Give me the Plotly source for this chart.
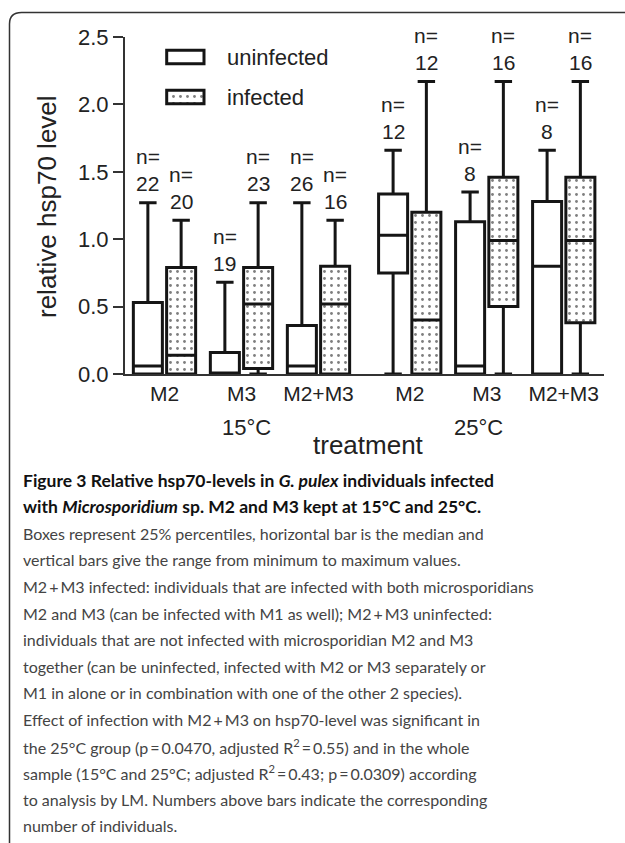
import plotly.graph_objects as go

# ---------------- data ----------------
groups = ["M2", "M3", "M2+M3", "M2", "M3", "M2+M3"]
temperatures = ["15°C", "25°C"]
series_names = ["uninfected", "infected"]

uninf_max = [1.27, 0.68, 1.27, 1.66, 1.35, 1.66]
uninf_q3 = [0.53, 0.16, 0.36, 1.335, 1.13, 1.28]
uninf_med = [0.06, 0.0, 0.06, 1.03, 0.06, 0.80]
uninf_q1 = [0.0, 0.0, 0.0, 0.75, 0.0, 0.0]
uninf_min = [0.0, 0.0, 0.0, 0.0, 0.0, 0.0]
uninf_n = [22, 19, 26, 12, 8, 8]

inf_max = [1.14, 1.27, 1.14, 2.17, 2.17, 2.17]
inf_q3 = [0.79, 0.79, 0.80, 1.20, 1.46, 1.46]
inf_med = [0.14, 0.52, 0.52, 0.40, 0.99, 0.99]
inf_q1 = [0.0, 0.04, 0.0, 0.0, 0.50, 0.38]
inf_min = [0.0, 0.0, 0.0, 0.0, 0.0, 0.0]
inf_n = [20, 23, 16, 12, 16, 16]

y_ticks = [0.0, 0.5, 1.0, 1.5, 2.0, 2.5]

TS = "\u2009"  # thin space used in the caption around + and =
caption_lines = [
    "<b>Figure 3 Relative hsp70-levels in <i>G. pulex</i> individuals infected</b>",
    "<b>with <i>Microsporidium</i> sp. M2 and M3 kept at 15°C and 25°C.</b>",
    "Boxes represent 25% percentiles, horizontal bar is the median and",
    "vertical bars give the range from minimum to maximum values.",
    f"M2{TS}+{TS}M3 infected: individuals that are infected with both microsporidians",
    f"M2 and M3 (can be infected with M1 as well); M2{TS}+{TS}M3 uninfected:",
    "individuals that are not infected with microsporidian M2 and M3",
    "together (can be uninfected, infected with M2 or M3 separately or",
    "M1 in alone or in combination with one of the other 2 species).",
    f"Effect of infection with M2{TS}+{TS}M3 on hsp70-level was significant in",
    f"the 25°C group (p{TS}={TS}0.0470, adjusted R<sup>2</sup>{TS}={TS}0.55) and in the whole",
    f"sample (15°C and 25°C; adjusted R<sup>2</sup>{TS}={TS}0.43; p{TS}={TS}0.0309) according",
    "to analysis by LM. Numbers above bars indicate the corresponding",
    "number of individuals.",
]

# ---------------- layout helpers ----------------
W, H = 625, 843
L, R, T, B = 125, 21, 37, 469
PW, PH = W - L - R, H - T - B


def px_x(px):
    return (px - L) / PW


def px_y(py):
    return (H - B - py) / PH


GAP = 0.185        # extra gap between temperature blocks
OFF = 0.216        # offset of each box from its group centre
BOXW = 0.377
centers = [i + (GAP if i >= 3 else 0) for i in range(len(groups))]
x_un = [c - OFF for c in centers]
x_in = [c + OFF for c in centers]

LINE = "#151515"
TXT = "#222222"
CHART_FONT = "Liberation Sans, Arial, sans-serif"
CAP_FONT = "Lato, Liberation Sans, Arial, sans-serif"

fig = go.Figure()

# dotted fill for infected boxes (drawn under the box outlines)
fig.add_trace(go.Bar(
    x=x_in, y=[a - b for a, b in zip(inf_q3, inf_q1)], base=inf_q1,
    width=BOXW, showlegend=False, hoverinfo="skip",
    marker=dict(color="white", line=dict(width=0),
                pattern=dict(shape=".", size=7, solidity=0.13,
                             fgcolor="black", bgcolor="white")),
))

fig.add_trace(go.Box(
    name=series_names[0], x=x_un, q1=uninf_q1, median=uninf_med, q3=uninf_q3,
    lowerfence=uninf_min, upperfence=uninf_max, width=BOXW, whiskerwidth=0.6,
    fillcolor="white", line=dict(color=LINE, width=3), boxpoints=False,
    showlegend=False,
))
fig.add_trace(go.Box(
    name=series_names[1], x=x_in, q1=inf_q1, median=inf_med, q3=inf_q3,
    lowerfence=inf_min, upperfence=inf_max, width=BOXW, whiskerwidth=0.6,
    fillcolor="rgba(0,0,0,0)", line=dict(color=LINE, width=3), boxpoints=False,
    showlegend=False,
))

# legend swatches on a small hidden subplot
fig.add_trace(go.Bar(
    x=[1], y=[series_names[0]], orientation="h", base=0, width=0.34,
    xaxis="x2", yaxis="y2", showlegend=False, hoverinfo="skip",
    marker=dict(color="white", line=dict(color=LINE, width=3)),
))
fig.add_trace(go.Bar(
    x=[1], y=[series_names[1]], orientation="h", base=0, width=0.34,
    xaxis="x2", yaxis="y2", showlegend=False, hoverinfo="skip",
    marker=dict(color="white", line=dict(color=LINE, width=3),
                pattern=dict(shape=".", size=7, solidity=0.13,
                             fgcolor="black", bgcolor="white")),
))

annotations = []
# n= labels
for xs, mx, ns in ((x_un, uninf_max, uninf_n), (x_in, inf_max, inf_n)):
    for x, m, n in zip(xs, mx, ns):
        annotations.append(dict(x=x, y=m, xref="x", yref="y", text=str(n),
                                showarrow=False, yanchor="middle", yshift=19,
                                font=dict(size=21, color=TXT, family=CHART_FONT)))
        annotations.append(dict(x=x, y=m, xref="x", yref="y", text="n=",
                                showarrow=False, yanchor="middle", yshift=46,
                                font=dict(size=21, color=TXT, family=CHART_FONT)))

# legend labels
for name, py in zip(series_names, (57, 97)):
    annotations.append(dict(x=px_x(225), y=px_y(py), xref="paper", yref="paper",
                            text=name, showarrow=False, xanchor="left",
                            yanchor="middle",
                            font=dict(size=22, color=TXT, family=CHART_FONT)))

# temperature labels
annotations.append(dict(x=centers[1] + 0.06, y=px_y(427), xref="x", yref="paper",
                        text=temperatures[0], showarrow=False, yanchor="middle",
                        font=dict(size=22, color=TXT, family=CHART_FONT)))
annotations.append(dict(x=centers[4] - 0.11, y=px_y(427), xref="x", yref="paper",
                        text=temperatures[1], showarrow=False, yanchor="middle",
                        font=dict(size=22, color=TXT, family=CHART_FONT)))

# axis titles
annotations.append(dict(x=px_x(368), y=px_y(445), xref="paper", yref="paper",
                        text="treatment", showarrow=False, yanchor="middle",
                        font=dict(size=26, color=TXT, family=CHART_FONT)))
annotations.append(dict(x=px_x(47), y=px_y(207), xref="paper", yref="paper",
                        text="relative hsp70 level", showarrow=False,
                        textangle=-90, xanchor="center", yanchor="middle",
                        font=dict(size=26, color=TXT, family=CHART_FONT)))

# caption
for i, line in enumerate(caption_lines):
    bold = i < 2
    annotations.append(dict(
        x=px_x(21), y=px_y(480 + 26.6 * i), xref="paper", yref="paper",
        text=line, showarrow=False, xanchor="left", yanchor="middle",
        font=dict(size=17.5 if bold else 16,
                  color="#111111" if bold else "#444444",
                  family=CAP_FONT)))

# frame (rounded top-left corner, top and left sides)
x0, y0 = px_x(9.5), px_y(843)
xc, yc = px_x(9.5), px_y(24)
xr = px_x(21.5)
yt = px_y(12.5)
xe = px_x(625)
frame = f"M {x0},{y0} L {xc},{yc} Q {x0},{yt} {xr},{yt} L {xe},{yt}"

fig.update_layout(
    width=W, height=H,
    margin=dict(l=L, r=R, t=T, b=B, pad=0),
    paper_bgcolor="white", plot_bgcolor="rgba(0,0,0,0)",
    boxmode="overlay", barmode="overlay",
    showlegend=False,
    font=dict(family=CHART_FONT, color=TXT),
    xaxis=dict(range=[-0.513, 5.708], tickvals=centers, ticktext=groups,
               showline=True, linecolor="#333333", linewidth=2, ticks="",
               showgrid=False, zeroline=False, fixedrange=True,
               tickfont=dict(size=21, color=TXT, family=CHART_FONT)),
    yaxis=dict(range=[0, 2.5], tickvals=y_ticks,
               ticktext=[f"{v:.1f}" for v in y_ticks],
               showline=True, linecolor="#333333", linewidth=2,
               ticks="outside", ticklen=10, tickwidth=2, tickcolor="#333333",
               showgrid=False, zeroline=False, fixedrange=True,
               tickfont=dict(size=22, color=TXT, family=CHART_FONT)),
    xaxis2=dict(domain=[px_x(163), px_x(208)],
                range=[-3.7 / 37.3, 1 + 4 / 37.3], anchor="y2", visible=False,
                fixedrange=True),
    yaxis2=dict(domain=[px_y(117), px_y(37)], anchor="x2", visible=False,
                type="category", categoryorder="array",
                categoryarray=[series_names[1], series_names[0]],
                fixedrange=True),
    annotations=annotations,
    shapes=[dict(type="path", path=frame, xref="paper", yref="paper",
                 line=dict(color="#333333", width=1.5), layer="above")],
)

fig.write_html("out.html")
